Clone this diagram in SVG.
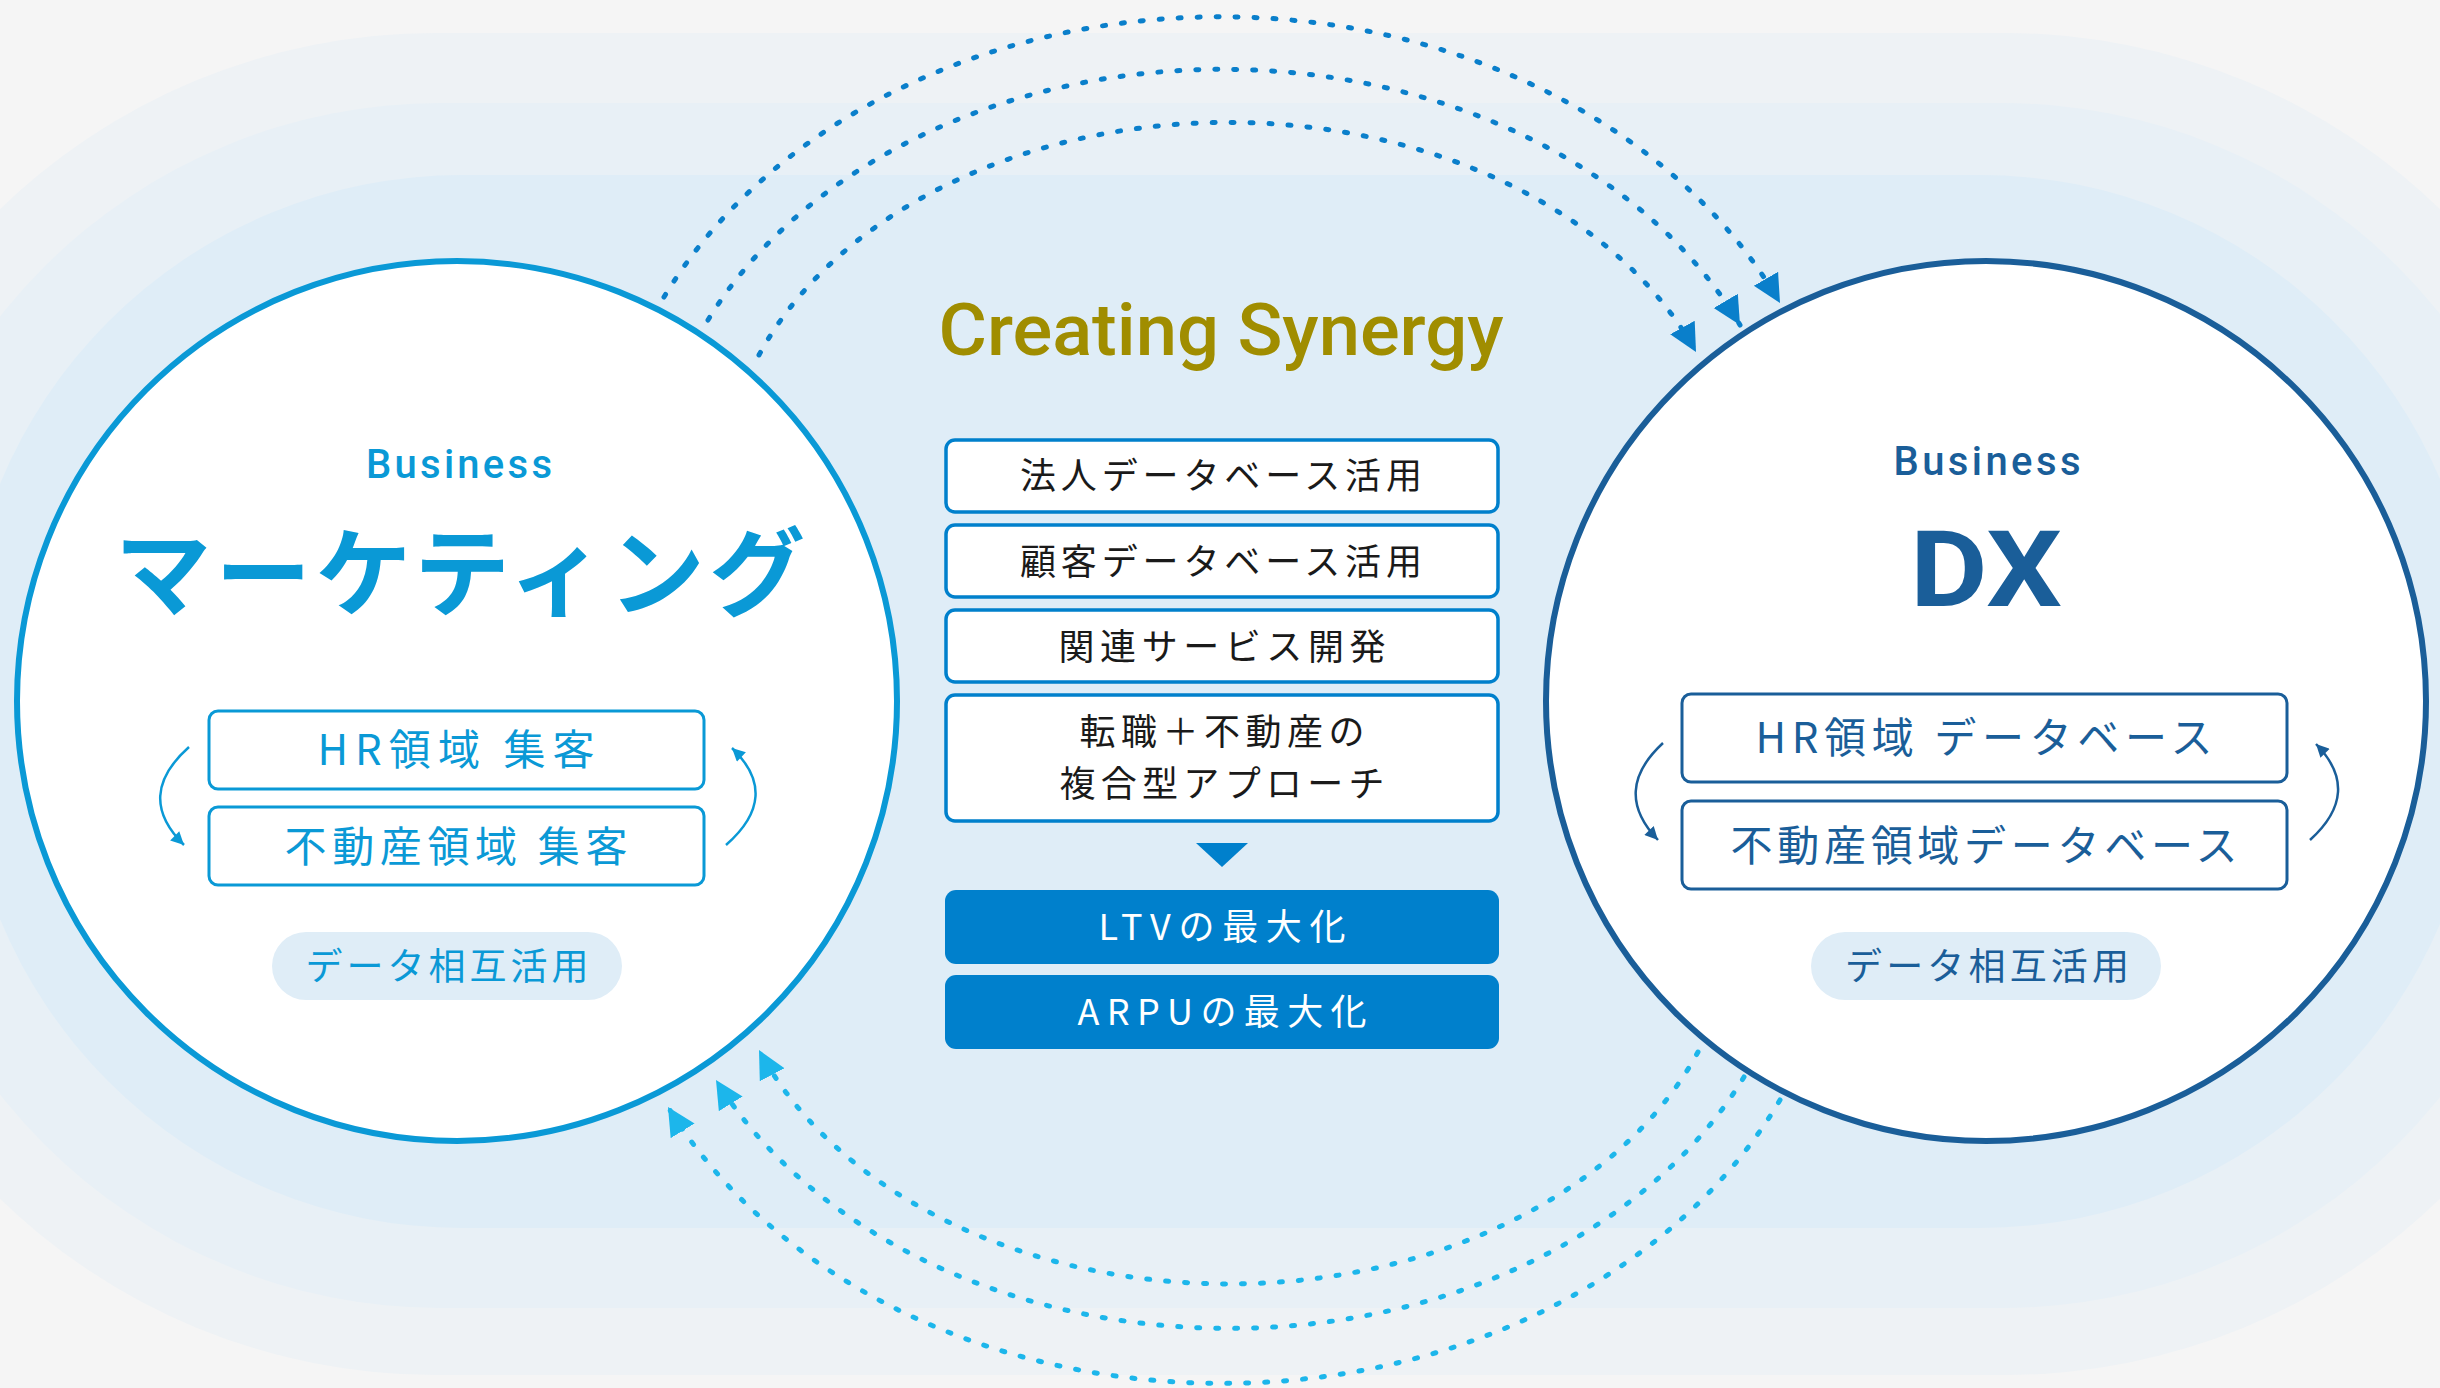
<svg xmlns="http://www.w3.org/2000/svg" width="2440" height="1388" viewBox="0 0 2440 1388">
<defs>
<style>
.jp{font-family:"Noto Sans CJK JP","Noto Sans",sans-serif}
.lat{font-family:Roboto,"Liberation Sans",sans-serif}
.cbox{fill:#ffffff;stroke:#0080cc;stroke-width:3.5}
.ctext{fill:#1a1a1a;font-size:36px;text-anchor:middle}
.btext{fill:#ffffff;font-size:36px;text-anchor:middle}
.lbox{fill:#ffffff;stroke:#0a99d6;stroke-width:3}
.rbox{fill:#ffffff;stroke:#1a5e99;stroke-width:3}
.ltext{fill:#0a99d6;text-anchor:middle}
.rtext{fill:#1a5e99;text-anchor:middle}
.dotTop{fill:none;stroke:#0a7fcb;stroke-width:5;stroke-linecap:round;stroke-dasharray:3 16}
.dotBot{fill:none;stroke:#1cb6eb;stroke-width:5;stroke-linecap:round;stroke-dasharray:3 16}
.pill{fill:#dfedf7}
</style>
<marker id="arrTop" viewBox="0 0 10 10" refX="10" refY="5" markerUnits="userSpaceOnUse" markerWidth="28" markerHeight="30" orient="auto"><path d="M0,0 L10,5 L0,10 z" fill="#0a7fcb"/></marker>
<marker id="arrBot" viewBox="0 0 10 10" refX="10" refY="5" markerUnits="userSpaceOnUse" markerWidth="28" markerHeight="30" orient="auto"><path d="M0,0 L10,5 L0,10 z" fill="#1cb6eb"/></marker>
<marker id="arrL" viewBox="0 0 10 10" refX="10" refY="5" markerUnits="userSpaceOnUse" markerWidth="14" markerHeight="13" orient="auto"><path d="M0,0 L10,5 L0,10 z" fill="#0a99d6"/></marker>
<marker id="arrR" viewBox="0 0 10 10" refX="10" refY="5" markerUnits="userSpaceOnUse" markerWidth="14" markerHeight="13" orient="auto"><path d="M0,0 L10,5 L0,10 z" fill="#1a5e99"/></marker>
</defs>

<g id="background">
<rect x="0" y="0" width="2440" height="1388" fill="#f5f5f5"/>
<rect x="-190" y="33" width="2820" height="1342" rx="625" ry="625" fill="#eef2f5"/>
<rect x="-120" y="103" width="2682" height="1205" rx="560" ry="560" fill="#e8f0f6"/>
<rect x="-38" y="175" width="2518" height="1053" rx="500" ry="500" fill="#dfedf7"/>
</g>

<g id="connectors">
<path class="dotTop" d="M664,297 A617,494 0 0 1 1780,303" marker-end="url(#arrTop)"/>
<path class="dotTop" d="M708,320 A568,435 0 0 1 1740,325" marker-end="url(#arrTop)"/>
<path class="dotTop" d="M759,355 A504,366 0 0 1 1696,352" marker-end="url(#arrTop)"/>
<path class="dotBot" d="M1780,1100 A617,494 0 0 1 668,1107" marker-end="url(#arrBot)"/>
<path class="dotBot" d="M1744,1077 A568,435 0 0 1 716,1080" marker-end="url(#arrBot)"/>
<path class="dotBot" d="M1698,1052 A504,366 0 0 1 759,1050" marker-end="url(#arrBot)"/>
</g>

<g id="node-marketing">
<circle cx="457" cy="701" r="440" fill="#ffffff" stroke="#0a99d6" stroke-width="6"/>
<text class="lat ltext" x="459" y="478" font-size="40" font-weight="500" textLength="186" lengthAdjust="spacing">Business</text>
<text class="jp ltext" x="460" y="608" font-size="96" font-weight="700" textLength="690" lengthAdjust="spacing">マーケティング</text>
<rect class="lbox" x="209" y="711" width="495" height="78" rx="9"/>
<text class="jp ltext" x="456" y="765" font-size="42" textLength="277" lengthAdjust="spacing">HR領域 集客</text>
<rect class="lbox" x="209" y="807" width="495" height="78" rx="9"/>
<text class="jp ltext" x="456" y="862" font-size="42" textLength="343" lengthAdjust="spacing">不動産領域 集客</text>
<path d="M189,747 Q134,796 184,845" fill="none" stroke="#0a99d6" stroke-width="2.5" marker-end="url(#arrL)"/>
<path d="M726,845 Q782,796 732,748" fill="none" stroke="#0a99d6" stroke-width="2.5" marker-end="url(#arrL)"/>
<rect class="pill" x="272" y="932" width="350" height="68" rx="34"/>
<text class="jp ltext" x="447" y="980" font-size="37" textLength="283" lengthAdjust="spacing">データ相互活用</text>
</g>

<g id="node-dx">
<circle cx="1986" cy="701" r="440" fill="#ffffff" stroke="#1a5e99" stroke-width="6"/>
<text class="lat rtext" x="1987" y="475" font-size="40" font-weight="500" textLength="187" lengthAdjust="spacing">Business</text>
<text class="lat rtext" x="1986" y="606" font-size="105" font-weight="700" textLength="152" lengthAdjust="spacingAndGlyphs">DX</text>
<rect class="rbox" x="1682" y="694" width="605" height="88" rx="9"/>
<text class="jp rtext" x="1984" y="753" font-size="42" textLength="457" lengthAdjust="spacing">HR領域 データベース</text>
<rect class="rbox" x="1682" y="801" width="605" height="88" rx="9"/>
<text class="jp rtext" x="1984" y="861" font-size="42" textLength="507" lengthAdjust="spacing">不動産領域データベース</text>
<path d="M1663,743 Q1611,791 1658,840" fill="none" stroke="#1a5e99" stroke-width="2.5" marker-end="url(#arrR)"/>
<path d="M2310,840 Q2363,792 2316,744" fill="none" stroke="#1a5e99" stroke-width="2.5" marker-end="url(#arrR)"/>
<rect class="pill" x="1811" y="932" width="350" height="68" rx="34"/>
<text class="jp rtext" x="1987" y="980" font-size="37" textLength="284" lengthAdjust="spacing">データ相互活用</text>
</g>

<g id="node-synergy">
<text class="lat" x="1221" y="355" font-size="72" font-weight="500" fill="#a08d00" text-anchor="middle" textLength="565" lengthAdjust="spacingAndGlyphs">Creating Synergy</text>
</g>

<g id="node-box1">
<rect class="cbox" x="946" y="440" width="552" height="72" rx="9"/>
<text class="jp ctext" x="1221" y="489" textLength="402" lengthAdjust="spacing">法人データベース活用</text>
</g>
<g id="node-box2">
<rect class="cbox" x="946" y="525" width="552" height="72" rx="9"/>
<text class="jp ctext" x="1221" y="575" textLength="402" lengthAdjust="spacing">顧客データベース活用</text>
</g>
<g id="node-box3">
<rect class="cbox" x="946" y="610" width="552" height="72" rx="9"/>
<text class="jp ctext" x="1222" y="660" textLength="327" lengthAdjust="spacing">関連サービス開発</text>
</g>
<g id="node-box4">
<rect class="cbox" x="946" y="695" width="552" height="126" rx="9"/>
<text class="jp ctext" x="1222" y="745" textLength="285" lengthAdjust="spacing">転職＋不動産の</text>
<text class="jp ctext" x="1222" y="797" textLength="325" lengthAdjust="spacing">複合型アプローチ</text>
</g>
<polygon id="down-arrow" points="1196,843 1248,843 1222,867" fill="#0080cc"/>
<g id="node-ltv">
<rect x="945" y="890" width="554" height="74" rx="11" fill="#0080cc"/>
<text class="jp btext" x="1222" y="940" textLength="247" lengthAdjust="spacing">LTVの最大化</text>
</g>
<g id="node-arpu">
<rect x="945" y="975" width="554" height="74" rx="11" fill="#0080cc"/>
<text class="jp btext" x="1222" y="1025" textLength="289" lengthAdjust="spacing">ARPUの最大化</text>
</g>
</svg>
